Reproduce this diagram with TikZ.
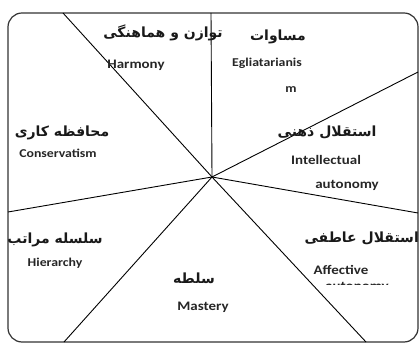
\documentclass[tikz,border=0pt]{standalone}
\usepackage{fontspec}
\newfontfamily\fafont[Script=Arabic]{DejaVu Sans}
\newfontfamily\enfont[FakeStretch=1.15]{Carlito}
\TeXXeTstate=1
\tikzset{
  fa/.style={font=\fafont\bfseries\fontsize{14}{16}\selectfont, inner sep=0pt, text=black!90},
  en/.style={font=\enfont\bfseries\fontsize{13}{15}\selectfont, inner sep=0pt, text=black!85},
  ensm/.style={en, font=\enfont\bfseries\fontsize{12}{14}\selectfont},
  spoke/.style={line width=.9pt},
}
\begin{document}
\begin{tikzpicture}[x=1pt,y=1pt]
\useasboundingbox (0,0) rectangle (419,345);
\draw[line width=1.2pt, black!80, rounded corners=14pt] (8,3) rectangle (418,332);
% centre and ends of the spokes
\coordinate (o) at (212,168);
\coordinate (top) at (211,332);
\coordinate (topleft) at (63,332);
\coordinate (upright) at (418,273);
\coordinate (lowright) at (418,132);
\coordinate (botright) at (366,3);
\coordinate (botleft) at (64,3);
\coordinate (left) at (8,133);
\foreach \p in {top,topleft,upright,lowright,botright,botleft,left}
  \draw[spoke] (o)--(\p);
% labels
\node[fa] (harmonyFa) at (163,312) {\beginR توازن و هماهنگی\endR};
\node[en] (harmonyEn) at (136,280) {Harmony};
\node[fa] (equalFa) at (278,308) {\beginR مساوات\endR};
\node[ensm] (equalEn) at (267,282) {Egliatarianis};
\node[ensm] (equalEnb) at (291,255) {m};
\node[fa] (intelFa) at (327,213) {\beginR استقلال ذهنی\endR};
\node[en] (intelEn) at (326,185) {Intellectual};
\node[en] (intelEnb) at (347,160) {autonomy};
\node[fa] (consFa) at (62,212) {\beginR محافظه کاری\endR};
\node[ensm] (consEn) at (58,192) {Conservatism};
\node[fa] (hierFa) at (55,105) {\beginR سلسله مراتب\endR};
\node[ensm] (hierEn) at (55,82) {Hierarchy};
\node[fa] (mastFa) at (194,67) {\beginR سلطه\endR};
\node[en] (mastEn) at (203,38) {Mastery};
\node[fa, anchor=east] (affFa) at (419,107) {\beginR استقلال عاطفی\endR};
\node[en] (affEn) at (341,75) {Affective};
\begin{scope}
  \clip (300,61) rectangle (410,70);
  \node[en] (affEnb) at (357,57.5) {autonomy};
\end{scope}
\end{tikzpicture}
\end{document}
